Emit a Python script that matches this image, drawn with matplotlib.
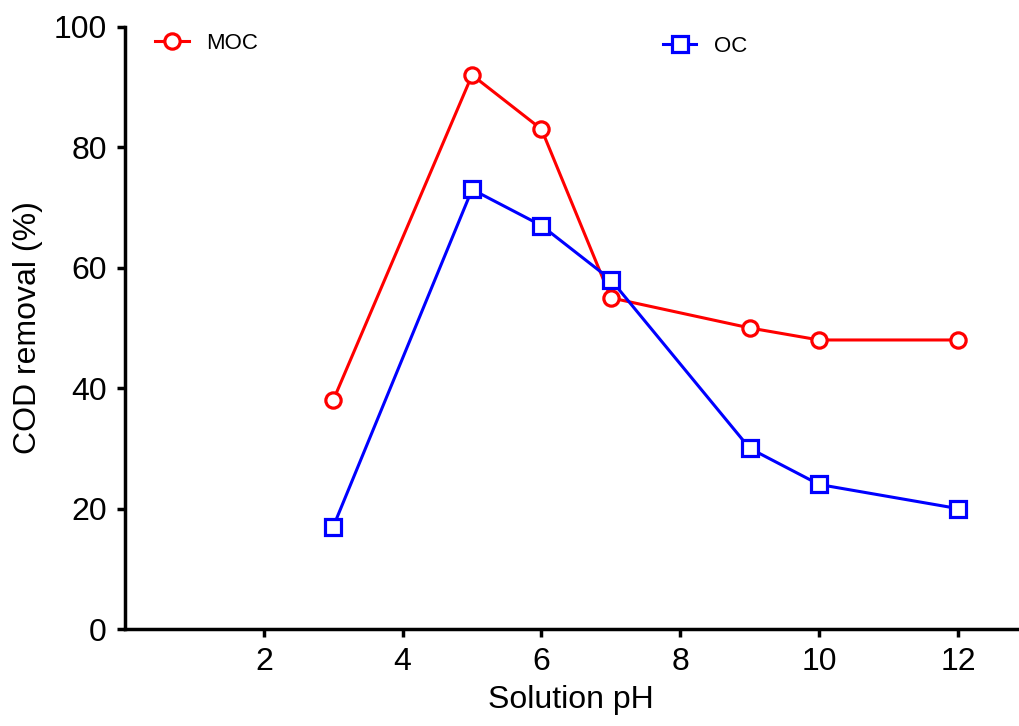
import matplotlib.pyplot as plt

plt.rcParams['font.family'] = ['Liberation Sans', 'DejaVu Sans']

ph = [3, 5, 6, 7, 9, 10, 12]
moc = [38, 92, 83, 55, 50, 48, 48]
oc = [17, 73, 67, 58, 30, 24, 20]

fig = plt.figure(figsize=(10.19, 7.26), dpi=100)
ax = fig.add_axes([0.1227, 0.1336, 0.8753, 0.8294])

l1, = ax.plot(ph, moc, color='#ff0000', marker='o', ms=11, mfc='white', mew=2.3, lw=2.2, label='MOC')
l2, = ax.plot(ph, oc, color='#0000ff', marker='s', ms=11, mfc='white', mew=2.3, lw=2.2, label='OC')

ax.set_xlim(0, 12.85)
ax.set_ylim(0, 100)
ax.set_xticks([2, 4, 6, 8, 10, 12])
ax.set_yticks([0, 20, 40, 60, 80, 100])
ax.set_xlabel('Solution pH', fontsize=23, labelpad=6)
ax.set_ylabel('COD removal (%)', fontsize=23, labelpad=8)
ax.tick_params(labelsize=23, width=2.5, length=6, pad=7)

for side in ['top', 'right']:
    ax.spines[side].set_visible(False)
for side in ['left', 'bottom']:
    ax.spines[side].set_linewidth(2.5)

leg1 = ax.legend(handles=[l1], loc='center left', bbox_to_anchor=(0.034, 0.972), frameon=False,
                 fontsize=16, handlelength=1.5, borderpad=0, borderaxespad=0, handletextpad=0.8)
ax.add_artist(leg1)
ax.legend(handles=[l2], loc='center left', bbox_to_anchor=(0.603, 0.968), frameon=False,
          fontsize=16, handlelength=1.5, borderpad=0, borderaxespad=0, handletextpad=0.8)

fig.savefig('out.png', dpi=100)
